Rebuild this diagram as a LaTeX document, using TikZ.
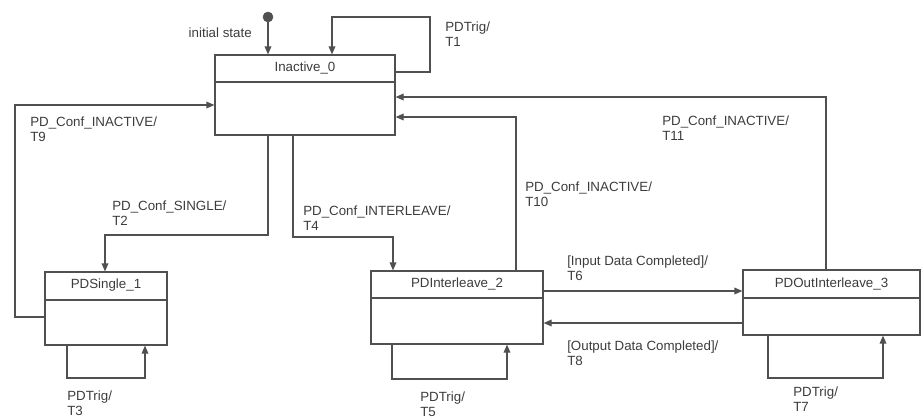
\documentclass[tikz,border=0pt]{standalone}
\usepackage{fontspec}
\setmainfont{Liberation Sans}
\usetikzlibrary{arrows.meta}
\definecolor{ink}{HTML}{505050}
\definecolor{txt}{HTML}{3C3C3C}
\tikzset{
  state/.style={draw=ink, line width=0.9pt, rectangle, inner sep=0pt},
  title/.style={text=txt, inner sep=0pt, font=\fontsize{10}{11.25}\selectfont},
  lbl/.style={text=txt, inner sep=0pt, align=left, anchor=north west, font=\fontsize{10}{11.25}\selectfont},
  conn/.style={draw=ink, line width=0.9pt},
  arr/.style={conn, -{Triangle[length=6pt,width=5pt]}},
}
\begin{document}
\begin{tikzpicture}[x=0.75pt,y=-0.75pt]
\useasboundingbox (0,0) rectangle (922,418);
% states
\node[state, minimum width=135pt, minimum height=60pt] (inactive) at (305,95) {};
\node[title] (inactiveT) at (305,68) {Inactive\_0};
\draw[conn] (inactive.west |- 0,82) -- (inactive.east |- 0,82);

\node[state, minimum width=91.5pt, minimum height=54.75pt] (single) at (106,308.5) {};
\node[title] (singleT) at (106,285) {PDSingle\_1};
\draw[conn] (single.west |- 0,300) -- (single.east |- 0,300);

\node[state, minimum width=129pt, minimum height=54.75pt] (inter) at (457,307.5) {};
\node[title] (interT) at (457,284) {PDInterleave\_2};
\draw[conn] (inter.west |- 0,298) -- (inter.east |- 0,298);

\node[state, minimum width=132.75pt, minimum height=48.75pt] (out) at (831.5,302.5) {};
\node[title] (outT) at (831.5,284) {PDOutInterleave\_3};
\draw[conn] (out.west |- 0,298) -- (out.east |- 0,298);

% initial
\node[circle, fill=ink, draw=ink, minimum size=7.5pt, inner sep=0pt] (init) at (268,17) {};
\node[title, anchor=east] (initL) at (252,33) {initial state};
\draw[arr] (init) -- (inactive.north -| init);

% T1 self loop
\coordinate (t1a) at (430,72);
\coordinate (t1b) at (430,17);
\coordinate (t1c) at (332,17);
\draw[arr] (inactive.east |- t1a) -- (t1a) -- (t1b) -- (t1c) -- (inactive.north -| t1c);
\node[lbl] (l1) at (445,22) {PDTrig/\\T1};

% T9
\draw[arr] (single.west |- 0,317) -- (15,317) -- (15,105) -- (inactive.west |- 0,105);
\node[lbl] (l9) at (30,117) {PD\_Conf\_INACTIVE/\\T9};

% T2
\draw[arr] (inactive.south -| 268,0) -- (268,235) -- (105,235) -- (single.north -| 105,0);
\node[lbl] (l2) at (112,201) {PD\_Conf\_SINGLE/\\T2};

% T4
\draw[arr] (inactive.south -| 293,0) -- (293,237) -- (393,237) -- (inter.north -| 393,0);
\node[lbl] (l4) at (303,206) {PD\_Conf\_INTERLEAVE/\\T4};

% T10
\draw[arr] (inter.north -| 516,0) -- (516,117) -- (inactive.east |- 0,117);
\node[lbl] (l10) at (525,182) {PD\_Conf\_INACTIVE/\\T10};

% T11
\draw[arr] (out.north -| 826,0) -- (826,97) -- (inactive.east |- 0,97);
\node[lbl] (l11) at (662,116) {PD\_Conf\_INACTIVE/\\T11};

% T6 / T8
\draw[arr] (inter.east |- 0,291) -- (out.west |- 0,291);
\node[lbl] (l6) at (567,256) {[Input Data Completed]/\\T6};
\draw[arr] (out.west |- 0,323) -- (inter.east |- 0,323);
\node[lbl] (l8) at (567,341) {[Output Data Completed]/\\T8};

% bottom self loops
\draw[arr] (single.south -| 67,0) -- (67,378) -- (145,378) -- (single.south -| 145,0);
\node[lbl] (l3) at (67,391) {PDTrig/\\T3};
\draw[arr] (inter.south -| 392,0) -- (392,379) -- (507,379) -- (inter.south -| 507,0);
\node[lbl] (l5) at (420,392) {PDTrig/\\T5};
\draw[arr] (out.south -| 768,0) -- (768,378) -- (883,378) -- (out.south -| 883,0);
\node[lbl] (l7) at (793,387) {PDTrig/\\T7};
\end{tikzpicture}
\end{document}
